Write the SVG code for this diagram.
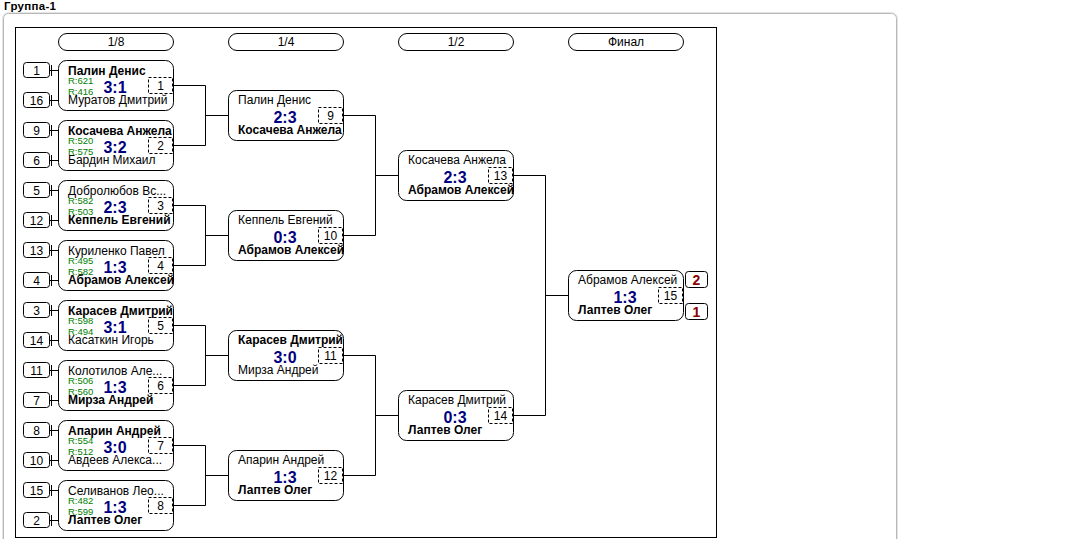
<svg xmlns="http://www.w3.org/2000/svg" width="1072" height="539" viewBox="0 0 1072 539">
<style>
text{font-family:"Liberation Sans",Arial,sans-serif;}
.title{font-size:11.5px;font-weight:bold;fill:#000;letter-spacing:0.3px}
.pill{fill:#fff;stroke:#000;stroke-width:1}
.ph{font-size:12px;fill:#000;text-anchor:middle}
.box{fill:#fff;stroke:#000;stroke-width:1}
.seed{fill:#fff;stroke:#000;stroke-width:1}
.sn{font-size:12px;fill:#000;text-anchor:middle}
.num{fill:#fff;stroke:#000;stroke-width:1;stroke-dasharray:3 2}
.nm{font-size:12px;fill:#000}
.b{font-weight:bold}
.r{font-size:9.5px;fill:#008000}
.sc{font-size:16px;font-weight:bold;fill:#000080;text-anchor:middle}
.ln{fill:none;stroke:#000;stroke-width:1}
.pl{fill:#fff;stroke:#000;stroke-width:1}
.pt{font-size:14px;font-weight:bold;fill:#8b0000;text-anchor:middle}
</style>
<rect x="0" y="0" width="1072" height="539" fill="#fff"/>
<text class="title" x="4" y="10">Группа-1</text>
<rect x="2.5" y="12.5" width="895" height="545" rx="6" fill="none" stroke="#e4e4e4"/>
<rect x="3.5" y="13.5" width="893" height="545" rx="5" fill="#fff" stroke="#b8b8b8"/>
<rect x="15.5" y="27.5" width="701" height="510" fill="none" stroke="#000"/>

<g id="headers">
<rect class="pill" x="58.5" y="33.5" width="115" height="17" rx="8.5"/><text class="ph" x="116" y="46">1/8</text>
<rect class="pill" x="228.5" y="33.5" width="115" height="17" rx="8.5"/><text class="ph" x="286" y="46">1/4</text>
<rect class="pill" x="398.5" y="33.5" width="115" height="17" rx="8.5"/><text class="ph" x="456" y="46">1/2</text>
<rect class="pill" x="568.5" y="33.5" width="115" height="17" rx="8.5"/><text class="ph" x="626" y="46">Финал</text>
</g>

<g id="connectors">
<path class="ln" d="M49.5,70.5H58.5M51.5,65V76M49.5,100.5H58.5M51.5,95V106"/>
<path class="ln" d="M49.5,130.5H58.5M51.5,125V136M49.5,160.5H58.5M51.5,155V166"/>
<path class="ln" d="M49.5,190.5H58.5M51.5,185V196M49.5,220.5H58.5M51.5,215V226"/>
<path class="ln" d="M49.5,250.5H58.5M51.5,245V256M49.5,280.5H58.5M51.5,275V286"/>
<path class="ln" d="M49.5,310.5H58.5M51.5,305V316M49.5,340.5H58.5M51.5,335V346"/>
<path class="ln" d="M49.5,370.5H58.5M51.5,365V376M49.5,400.5H58.5M51.5,395V406"/>
<path class="ln" d="M49.5,430.5H58.5M51.5,425V436M49.5,460.5H58.5M51.5,455V466"/>
<path class="ln" d="M49.5,490.5H58.5M51.5,485V496M49.5,520.5H58.5M51.5,515V526"/>
<path class="ln" d="M173.5,85.5H205.5V145.5H173.5M205.5,115.5H228.5"/>
<path class="ln" d="M173.5,205.5H205.5V265.5H173.5M205.5,235.5H228.5"/>
<path class="ln" d="M173.5,325.5H205.5V385.5H173.5M205.5,355.5H228.5"/>
<path class="ln" d="M173.5,445.5H205.5V505.5H173.5M205.5,475.5H228.5"/>
<path class="ln" d="M343.5,115.5H375.5V235.5H343.5M375.5,175.5H398.5"/>
<path class="ln" d="M343.5,355.5H375.5V475.5H343.5M375.5,415.5H398.5"/>
<path class="ln" d="M513.5,175.5H545.5V415.5H513.5M545.5,295.5H568.5"/>
</g>

<g id="seeds">
<rect class="seed" x="23.5" y="62.5" width="26" height="15" rx="3"/><text class="sn" x="36.5" y="74.5">1</text>
<rect class="seed" x="23.5" y="92.5" width="26" height="15" rx="3"/><text class="sn" x="36.5" y="104.5">16</text>
<rect class="seed" x="23.5" y="122.5" width="26" height="15" rx="3"/><text class="sn" x="36.5" y="134.5">9</text>
<rect class="seed" x="23.5" y="152.5" width="26" height="15" rx="3"/><text class="sn" x="36.5" y="164.5">6</text>
<rect class="seed" x="23.5" y="182.5" width="26" height="15" rx="3"/><text class="sn" x="36.5" y="194.5">5</text>
<rect class="seed" x="23.5" y="212.5" width="26" height="15" rx="3"/><text class="sn" x="36.5" y="224.5">12</text>
<rect class="seed" x="23.5" y="242.5" width="26" height="15" rx="3"/><text class="sn" x="36.5" y="254.5">13</text>
<rect class="seed" x="23.5" y="272.5" width="26" height="15" rx="3"/><text class="sn" x="36.5" y="284.5">4</text>
<rect class="seed" x="23.5" y="302.5" width="26" height="15" rx="3"/><text class="sn" x="36.5" y="314.5">3</text>
<rect class="seed" x="23.5" y="332.5" width="26" height="15" rx="3"/><text class="sn" x="36.5" y="344.5">14</text>
<rect class="seed" x="23.5" y="362.5" width="26" height="15" rx="3"/><text class="sn" x="36.5" y="374.5">11</text>
<rect class="seed" x="23.5" y="392.5" width="26" height="15" rx="3"/><text class="sn" x="36.5" y="404.5">7</text>
<rect class="seed" x="23.5" y="422.5" width="26" height="15" rx="3"/><text class="sn" x="36.5" y="434.5">8</text>
<rect class="seed" x="23.5" y="452.5" width="26" height="15" rx="3"/><text class="sn" x="36.5" y="464.5">10</text>
<rect class="seed" x="23.5" y="482.5" width="26" height="15" rx="3"/><text class="sn" x="36.5" y="494.5">15</text>
<rect class="seed" x="23.5" y="512.5" width="26" height="15" rx="3"/><text class="sn" x="36.5" y="524.5">2</text>
</g>

<g id="m1"><rect class="box" x="58.5" y="60.5" width="115" height="50" rx="8"/><rect class="num" x="148.5" y="77.5" width="24" height="16"/><text class="sn" x="160.5" y="90">1</text>
<text class="nm b" x="68" y="75">Палин Денис</text><text class="r" x="68" y="83.5">R:621</text><text class="r" x="68" y="94.5">R:416</text><text class="sc" x="115" y="93">3:1</text><text class="nm" x="68" y="104">Муратов Дмитрий</text></g>
<g id="m2"><rect class="box" x="58.5" y="120.5" width="115" height="50" rx="8"/><rect class="num" x="148.5" y="137.5" width="24" height="16"/><text class="sn" x="160.5" y="150">2</text>
<text class="nm b" x="68" y="135">Косачева Анжела</text><text class="r" x="68" y="143.5">R:520</text><text class="r" x="68" y="154.5">R:575</text><text class="sc" x="115" y="153">3:2</text><text class="nm" x="68" y="164">Бардин Михаил</text></g>
<g id="m3"><rect class="box" x="58.5" y="180.5" width="115" height="50" rx="8"/><rect class="num" x="148.5" y="197.5" width="24" height="16"/><text class="sn" x="160.5" y="210">3</text>
<text class="nm" x="68" y="195">Добролюбов Вс...</text><text class="r" x="68" y="203.5">R:582</text><text class="r" x="68" y="214.5">R:503</text><text class="sc" x="115" y="213">2:3</text><text class="nm b" x="68" y="224">Кеппель Евгений</text></g>
<g id="m4"><rect class="box" x="58.5" y="240.5" width="115" height="50" rx="8"/><rect class="num" x="148.5" y="257.5" width="24" height="16"/><text class="sn" x="160.5" y="270">4</text>
<text class="nm" x="68" y="255">Куриленко Павел</text><text class="r" x="68" y="263.5">R:495</text><text class="r" x="68" y="274.5">R:582</text><text class="sc" x="115" y="273">1:3</text><text class="nm b" x="68" y="284">Абрамов Алексей</text></g>
<g id="m5"><rect class="box" x="58.5" y="300.5" width="115" height="50" rx="8"/><rect class="num" x="148.5" y="317.5" width="24" height="16"/><text class="sn" x="160.5" y="330">5</text>
<text class="nm b" x="68" y="315">Карасев Дмитрий</text><text class="r" x="68" y="323.5">R:598</text><text class="r" x="68" y="334.5">R:494</text><text class="sc" x="115" y="333">3:1</text><text class="nm" x="68" y="344">Касаткин Игорь</text></g>
<g id="m6"><rect class="box" x="58.5" y="360.5" width="115" height="50" rx="8"/><rect class="num" x="148.5" y="377.5" width="24" height="16"/><text class="sn" x="160.5" y="390">6</text>
<text class="nm" x="68" y="375">Колотилов Але...</text><text class="r" x="68" y="383.5">R:506</text><text class="r" x="68" y="394.5">R:560</text><text class="sc" x="115" y="393">1:3</text><text class="nm b" x="68" y="404">Мирза Андрей</text></g>
<g id="m7"><rect class="box" x="58.5" y="420.5" width="115" height="50" rx="8"/><rect class="num" x="148.5" y="437.5" width="24" height="16"/><text class="sn" x="160.5" y="450">7</text>
<text class="nm b" x="68" y="435">Апарин Андрей</text><text class="r" x="68" y="443.5">R:554</text><text class="r" x="68" y="454.5">R:512</text><text class="sc" x="115" y="453">3:0</text><text class="nm" x="68" y="464">Авдеев Алекса...</text></g>
<g id="m8"><rect class="box" x="58.5" y="480.5" width="115" height="50" rx="8"/><rect class="num" x="148.5" y="497.5" width="24" height="16"/><text class="sn" x="160.5" y="510">8</text>
<text class="nm" x="68" y="495">Селиванов Лео...</text><text class="r" x="68" y="503.5">R:482</text><text class="r" x="68" y="514.5">R:599</text><text class="sc" x="115" y="513">1:3</text><text class="nm b" x="68" y="524">Лаптев Олег</text></g>

<g id="m9"><rect class="box" x="228.5" y="90.5" width="115" height="50" rx="8"/><rect class="num" x="318.5" y="107.5" width="24" height="16"/><text class="sn" x="330.5" y="120">9</text>
<text class="nm" x="238" y="104">Палин Денис</text><text class="sc" x="285" y="123">2:3</text><text class="nm b" x="238" y="134">Косачева Анжела</text></g>
<g id="m10"><rect class="box" x="228.5" y="210.5" width="115" height="50" rx="8"/><rect class="num" x="318.5" y="227.5" width="24" height="16"/><text class="sn" x="330.5" y="240">10</text>
<text class="nm" x="238" y="224">Кеппель Евгений</text><text class="sc" x="285" y="243">0:3</text><text class="nm b" x="238" y="254">Абрамов Алексей</text></g>
<g id="m11"><rect class="box" x="228.5" y="330.5" width="115" height="50" rx="8"/><rect class="num" x="318.5" y="347.5" width="24" height="16"/><text class="sn" x="330.5" y="360">11</text>
<text class="nm b" x="238" y="344">Карасев Дмитрий</text><text class="sc" x="285" y="363">3:0</text><text class="nm" x="238" y="374">Мирза Андрей</text></g>
<g id="m12"><rect class="box" x="228.5" y="450.5" width="115" height="50" rx="8"/><rect class="num" x="318.5" y="467.5" width="24" height="16"/><text class="sn" x="330.5" y="480">12</text>
<text class="nm" x="238" y="464">Апарин Андрей</text><text class="sc" x="285" y="483">1:3</text><text class="nm b" x="238" y="494">Лаптев Олег</text></g>

<g id="m13"><rect class="box" x="398.5" y="150.5" width="115" height="50" rx="8"/><rect class="num" x="488.5" y="167.5" width="24" height="16"/><text class="sn" x="500.5" y="180">13</text>
<text class="nm" x="408" y="164">Косачева Анжела</text><text class="sc" x="455" y="183">2:3</text><text class="nm b" x="408" y="194">Абрамов Алексей</text></g>
<g id="m14"><rect class="box" x="398.5" y="390.5" width="115" height="50" rx="8"/><rect class="num" x="488.5" y="407.5" width="24" height="16"/><text class="sn" x="500.5" y="420">14</text>
<text class="nm" x="408" y="404">Карасев Дмитрий</text><text class="sc" x="455" y="423">0:3</text><text class="nm b" x="408" y="434">Лаптев Олег</text></g>

<g id="m15"><rect class="box" x="568.5" y="270.5" width="115" height="50" rx="8"/><rect class="num" x="658.5" y="287.5" width="24" height="16"/><text class="sn" x="670.5" y="300">15</text>
<text class="nm" x="578" y="284">Абрамов Алексей</text><text class="sc" x="625" y="303">1:3</text><text class="nm b" x="578" y="314">Лаптев Олег</text></g>

<g id="places">
<rect class="pl" x="685.5" y="271.5" width="22" height="16" rx="3"/><text class="pt" x="696.5" y="285">2</text>
<rect class="pl" x="685.5" y="303.5" width="22" height="16" rx="3"/><text class="pt" x="696.5" y="317">1</text>
</g>
</svg>
